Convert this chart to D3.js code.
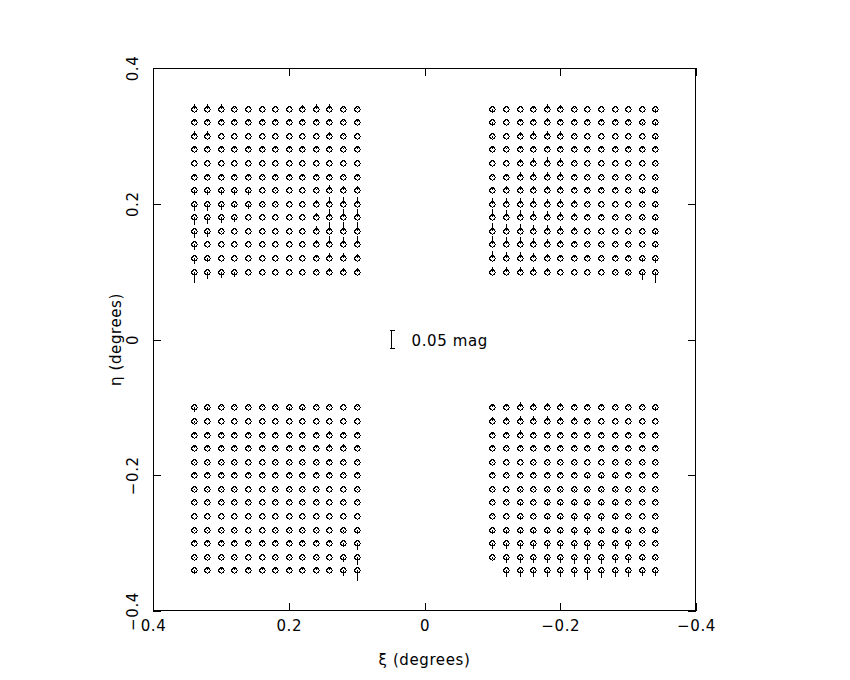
<!DOCTYPE html>
<html><head><meta charset="utf-8">
<script src="https://cdn.jsdelivr.net/npm/d3@7"></script>
<style>body{margin:0;background:#fff}text{font-family:"DejaVu Sans",sans-serif;fill:#000}</style>
</head><body><svg id="c" width="850" height="680"></svg>
<script>
// grid coordinates (degrees)
const xiLeft = [0.34,0.32,0.30,0.28,0.26,0.24,0.22,0.20,0.18,0.16,0.14,0.12,0.10];
const xiRight = [-0.10,-0.12,-0.14,-0.16,-0.18,-0.20,-0.22,-0.24,-0.26,-0.28,-0.30,-0.32,-0.34];
const etaTop = [0.34,0.32,0.30,0.28,0.26,0.24,0.22,0.20,0.18,0.16,0.14,0.12,0.10];
const etaBottom = [-0.10,-0.12,-0.14,-0.16,-0.18,-0.20,-0.22,-0.24,-0.26,-0.28,-0.30,-0.32,-0.34];
const axisTicks = [0.4,0.2,0,-0.2,-0.4];
// residuals in mmag, rows follow eta arrays, columns follow xi arrays
const residTL = [
 [14,14,13,1,0,0,0,0,11,13,13,3,1],
 [10,10,7,7,6,6,7,7,7,7,10,3,6],
 [13,13,1,0,0,0,0,0,0,1,11,3,1],
 [7,7,7,7,7,6,7,7,7,7,8,3,6],
 [1,0,1,0,1,0,0,1,0,1,1,1,1],
 [4,4,4,4,4,1,4,4,4,4,4,3,4],
 [-14,-14,-14,-13,-13,0,-1,0,0,4,14,13,13],
 [-20,-20,-18,-8,-16,-3,-4,0,0,11,20,20,20],
 [-23,-20,-17,-14,1,0,0,0,0,11,25,25,25],
 [-20,-17,-4,0,0,0,0,0,1,13,25,25,25],
 [-17,0,1,0,1,0,0,1,0,13,23,21,23],
 [-18,-11,1,0,0,0,0,0,0,10,13,13,11],
 [-31,-20,-17,-14,0,0,0,0,0,1,11,11,11]
];
const residTR = [
 [-8,0,0,8,13,10,3,0,0,0,0,0,-10],
 [-8,0,8,10,11,10,6,6,6,6,6,-6,-8],
 [-6,0,11,13,14,13,3,0,0,0,0,0,-8],
 [6,3,8,10,11,10,6,6,6,6,6,6,6],
 [0,0,11,14,18,14,3,0,0,0,0,0,-3],
 [3,6,13,13,14,13,4,1,3,3,3,0,-8],
 [8,11,11,11,11,11,8,6,6,6,3,-7,-10],
 [17,17,17,16,14,14,11,1,0,0,0,-3,-11],
 [23,20,20,17,17,16,11,6,6,3,3,-6,-11],
 [23,20,20,17,16,14,11,1,0,0,0,0,-11],
 [23,21,20,17,16,14,11,3,3,3,3,0,-11],
 [20,18,17,14,11,7,6,6,3,6,6,-10,-14],
 [14,13,13,13,10,0,0,0,0,-3,-6,-23,-31]
];
const residBL = [
 [-14,-10,3,3,4,3,3,-8,-8,3,3,0,3],
 [-7,0,0,0,0,0,0,0,0,0,0,0,0],
 [3,3,3,3,6,3,3,3,3,3,10,6,4],
 [6,6,6,6,7,6,6,6,6,10,13,11,6],
 [-4,-4,-4,-4,0,0,-4,-4,-4,-3,6,3,3],
 [6,6,6,6,6,6,6,6,6,6,6,3,6],
 [-4,-4,-4,-4,0,0,-4,-4,-4,-4,0,0,-4],
 [3,3,3,3,3,0,3,3,3,3,0,3,3],
 [0,0,0,0,0,0,0,0,0,0,0,0,0],
 [-4,-4,-4,-4,0,0,-4,-4,-4,-4,0,-8,-11],
 [6,6,6,6,6,6,6,6,6,6,6,-11,-20],
 [-4,-4,-4,-4,0,0,-4,-4,-4,-4,0,-14,-23],
 [-8,6,6,6,6,6,6,6,6,6,6,-17,-31]
];
const residBR = [
 [8,10,14,13,13,11,8,6,6,3,3,3,-8],
 [11,11,14,13,13,11,10,8,0,0,0,0,0],
 [3,3,14,3,4,3,4,3,3,3,3,3,3],
 [6,3,10,6,6,6,6,6,6,6,6,6,6],
 [-4,0,0,-4,-4,-4,-4,0,0,-4,-4,-4,-4],
 [6,3,6,6,6,6,6,-7,-7,-7,6,6,6],
 [-4,0,-7,-4,-6,-6,-6,-7,-6,-6,-4,-4,-4],
 [3,3,-8,3,-8,-10,-11,-11,-11,-8,3,3,3],
 [3,0,-8,3,-10,-11,-13,-14,-14,-11,3,0,3],
 [-14,-14,-14,-14,-14,-14,-16,-16,-14,-13,-11,-3,-10],
 [-17,-17,-18,-17,-17,-18,-18,-20,-18,-17,-16,-3,3],
 [-6,-17,-18,-18,-18,-18,-20,-21,-20,-18,-17,-11,-6],
 [null,-20,-20,-20,-20,-20,-20,-28,-23,-20,-20,-17,-17]
];
const scaleBar = {xi:0.05, eta:0, mmag:50, label:"0.05 mag"};
const degPerMmag = 0.00052;

const svg = d3.select('#c');
svg.append('rect').attr('width',850).attr('height',680).attr('fill','#fff');
const x = d3.scaleLinear().domain([0.4,-0.4]).range([153,696]);
const y = d3.scaleLinear().domain([-0.4,0.4]).range([611,68]);

const pts = [];
function addQuad(etas, xis, res){
  etas.forEach((e,i)=>xis.forEach((xi,j)=>{const v=res[i][j]; if(v!==null) pts.push({xi, eta:e, v});}));
}
addQuad(etaTop, xiLeft, residTL);
addQuad(etaTop, xiRight, residTR);
addQuad(etaBottom, xiLeft, residBL);
addQuad(etaBottom, xiRight, residBR);

const g = svg.append('g');
g.selectAll('circle').data(pts).join('circle')
  .attr('cx',d=>Math.round(x(d.xi))+0.5).attr('cy',d=>Math.round(y(d.eta))+0.5).attr('r',2.6)
  .attr('fill','none').attr('stroke','#000').attr('stroke-width',1.1).attr('shape-rendering','crispEdges');
g.selectAll('line').data(pts).join('line')
  .attr('x1',d=>Math.round(x(d.xi))+0.5).attr('x2',d=>Math.round(x(d.xi))+0.5)
  .attr('y1',d=>y(d.eta)).attr('y2',d=>y(d.eta+d.v*degPerMmag))
  .attr('stroke','#000').attr('stroke-width',1).attr('shape-rendering','crispEdges');

// scale bar
const sb = svg.append('g').attr('stroke','#000').attr('shape-rendering','crispEdges');
const sbx = Math.round(x(scaleBar.xi))+0.5;
const half = scaleBar.mmag*degPerMmag/2;
sb.append('line').attr('x1',sbx).attr('x2',sbx).attr('y1',y(scaleBar.eta+half)).attr('y2',y(scaleBar.eta-half));
sb.append('line').attr('x1',sbx-2).attr('x2',sbx+3).attr('y1',y(scaleBar.eta+half)).attr('y2',y(scaleBar.eta+half));
sb.append('line').attr('x1',sbx-2).attr('x2',sbx+3).attr('y1',y(scaleBar.eta-half)).attr('y2',y(scaleBar.eta-half));
svg.append('text').attr('x',sbx+20).attr('y',y(scaleBar.eta)+6).attr('font-size',15).attr('letter-spacing',0.6).text(scaleBar.label);

// frame
svg.append('rect').attr('x',153.5).attr('y',68.5).attr('width',542).attr('height',542)
  .attr('fill','none').attr('stroke','#000').attr('shape-rendering','crispEdges');

const fmt = d => d===0 ? '0' : d3.format('.1f')(d);
const styleAxis = sel => { sel.select('.domain').remove(); sel.selectAll('line').attr('shape-rendering','crispEdges'); };
svg.append('g').attr('transform','translate(0,611)')
  .call(d3.axisBottom(x).tickValues(axisTicks).tickSize(-8).tickPadding(9).tickFormat(fmt))
  .call(styleAxis)
  .call(s=>s.selectAll('text').attr('font-size',15).attr('font-family','DejaVu Sans').attr('letter-spacing',0.6));
svg.append('g').attr('transform','translate(0,68)')
  .call(d3.axisTop(x).tickValues(axisTicks).tickSize(-8).tickFormat(''))
  .call(styleAxis);
svg.append('g').attr('transform','translate(153,0)')
  .call(d3.axisLeft(y).tickValues(axisTicks).tickSize(-8).tickFormat(fmt))
  .call(styleAxis)
  .call(s=>s.selectAll('text').attr('x',null).attr('dy',null).attr('text-anchor','middle')
     .attr('transform','translate(-15,0) rotate(-90)').attr('font-size',15).attr('font-family','DejaVu Sans').attr('letter-spacing',0.6));
svg.append('g').attr('transform','translate(696,0)')
  .call(d3.axisRight(y).tickValues(axisTicks).tickSize(-8).tickFormat(''))
  .call(styleAxis);
svg.selectAll('.tick line').attr('stroke','#000');

// axis titles
svg.append('text').attr('x',x(0)).attr('y',665).attr('text-anchor','middle').attr('font-size',15).attr('letter-spacing',0.6).text('ξ (degrees)');
svg.append('text').attr('transform',`translate(121,${y(0)}) rotate(-90)`).attr('text-anchor','middle').attr('font-size',15).attr('letter-spacing',0.6).text('η (degrees)');
</script></body></html>
